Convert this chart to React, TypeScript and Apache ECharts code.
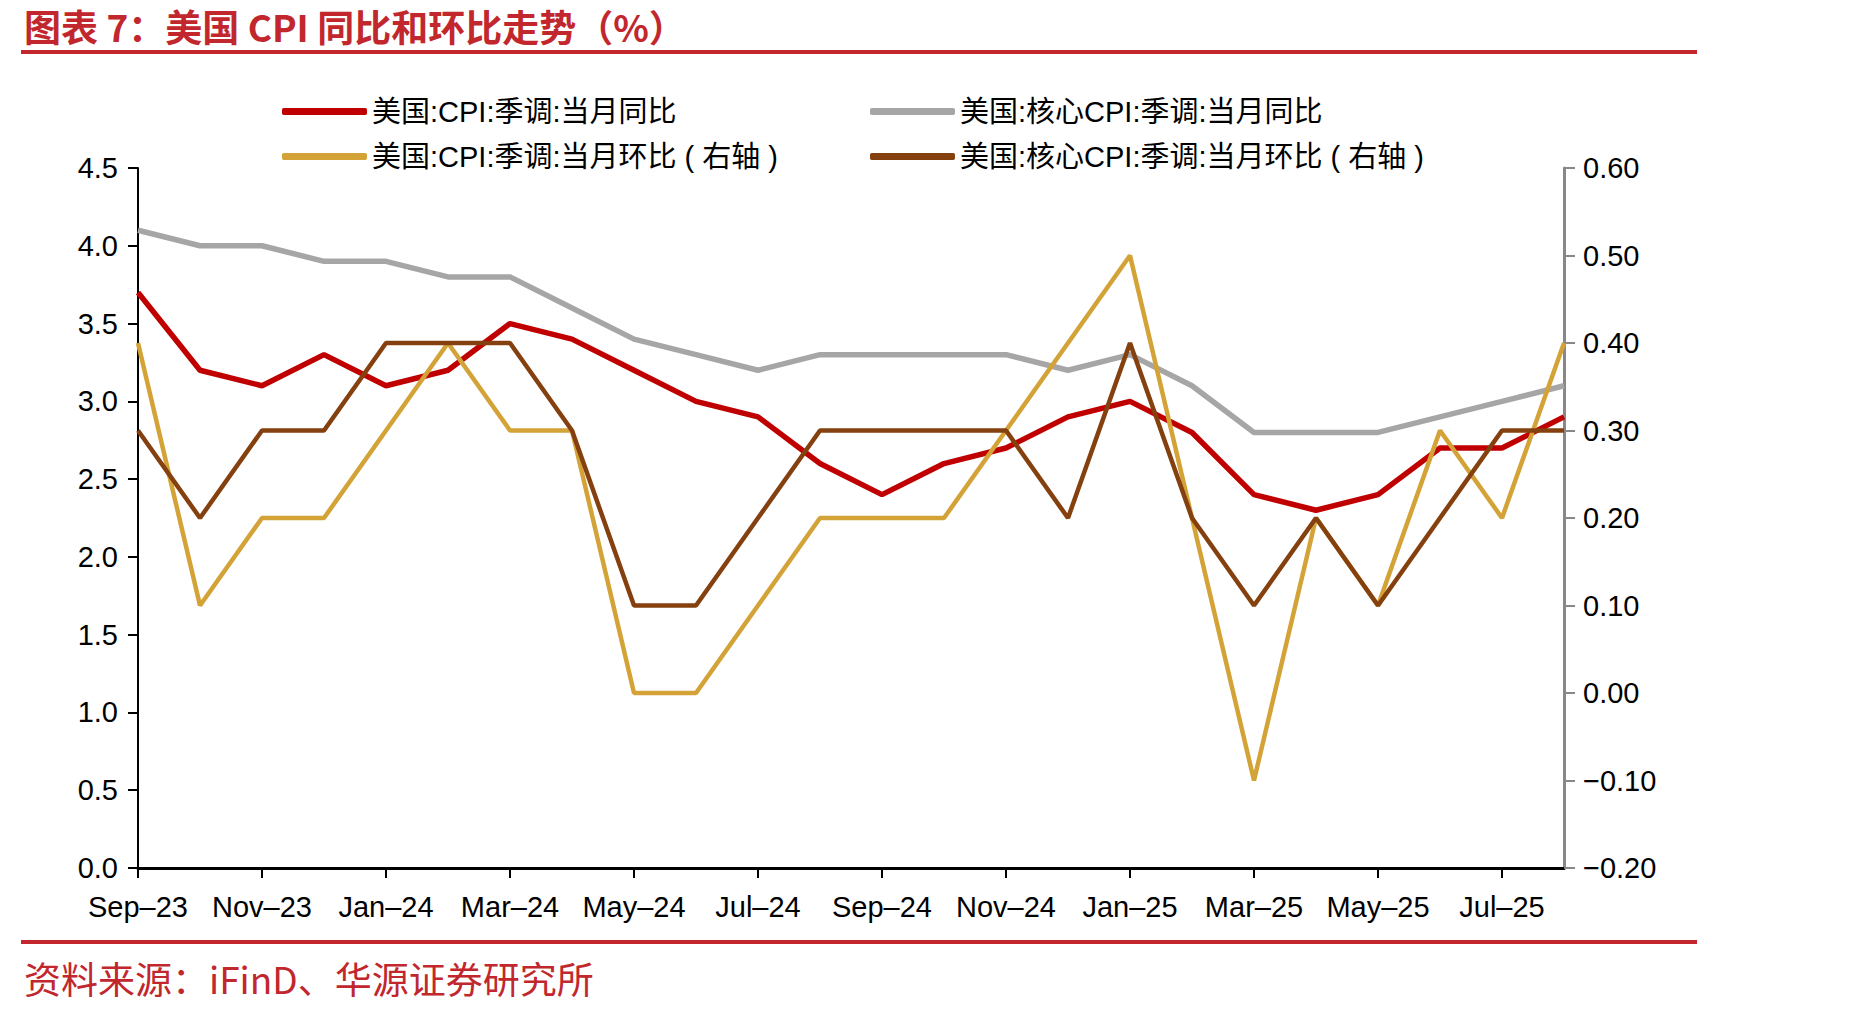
import React, { useEffect, useRef } from "react";
import * as echarts from "echarts";

// Monthly categories, Sep-2023 to Aug-2025
const months = [
  "Sep–23", "Oct–23", "Nov–23", "Dec–23", "Jan–24", "Feb–24", "Mar–24", "Apr–24",
  "May–24", "Jun–24", "Jul–24", "Aug–24", "Sep–24", "Oct–24", "Nov–24", "Dec–24",
  "Jan–25", "Feb–25", "Mar–25", "Apr–25", "May–25", "Jun–25", "Jul–25", "Aug–25",
];

// Year-over-year (left axis, %)
const cpiYoY = [3.7, 3.2, 3.1, 3.3, 3.1, 3.2, 3.5, 3.4, 3.2, 3.0, 2.9, 2.6, 2.4, 2.6, 2.7, 2.9, 3.0, 2.8, 2.4, 2.3, 2.4, 2.7, 2.7, 2.9];
const coreYoY = [4.1, 4.0, 4.0, 3.9, 3.9, 3.8, 3.8, 3.6, 3.4, 3.3, 3.2, 3.3, 3.3, 3.3, 3.3, 3.2, 3.3, 3.1, 2.8, 2.8, 2.8, 2.9, 3.0, 3.1];

// Month-over-month (right axis, %)
const cpiMoM = [0.4, 0.1, 0.2, 0.2, 0.3, 0.4, 0.3, 0.3, 0.0, 0.0, 0.1, 0.2, 0.2, 0.2, 0.3, 0.4, 0.5, 0.2, -0.1, 0.2, 0.1, 0.3, 0.2, 0.4];
const coreMoM = [0.3, 0.2, 0.3, 0.3, 0.4, 0.4, 0.4, 0.3, 0.1, 0.1, 0.2, 0.3, 0.3, 0.3, 0.3, 0.2, 0.4, 0.2, 0.1, 0.2, 0.1, 0.2, 0.3, 0.3];

const seriesNames = [
  "美国:CPI:季调:当月同比",
  "美国:核心CPI:季调:当月同比",
  "美国:CPI:季调:当月环比 ( 右轴 )",
  "美国:核心CPI:季调:当月环比 ( 右轴 )",
];

const TITLE = "图表 7：美国 CPI 同比和环比走势（%）";
const SOURCE = "资料来源：iFinD、华源证券研究所";

const RED = "#c00000";
const GRAY = "#a6a6a6";
const GOLD = "#d4a338";
const BROWN = "#84400e";
const BRAND = "#c1272d";

const LATIN = "'Liberation Sans', Arial, 'Noto Sans CJK SC', sans-serif";

export default function App() {
  const ref = useRef<HTMLDivElement>(null);

  useEffect(() => {
    if (!ref.current) return;
    const chart = echarts.init(ref.current, null, { renderer: "svg" });

    const legendText = { fontSize: 29, color: "#000", fontFamily: LATIN };
    const legendBase = {
      icon: "roundRect",
      itemWidth: 85,
      itemHeight: 7,
      itemGap: 0,
      textStyle: legendText,
      selectedMode: false,
    };

    chart.setOption({
      animation: false,
      backgroundColor: "#fff",
      grid: { left: 138, right: 288, top: 168, bottom: 146, containLabel: false },
      legend: [
        { ...legendBase, data: [seriesNames[0]], left: 277, top: 92 },
        { ...legendBase, data: [seriesNames[1]], left: 865, top: 92 },
        { ...legendBase, data: [seriesNames[2]], left: 277, top: 137 },
        { ...legendBase, data: [seriesNames[3]], left: 865, top: 137 },
      ],
      xAxis: {
        type: "category",
        data: months,
        boundaryGap: false,
        axisLine: { lineStyle: { color: "#000", width: 3 } },
        axisTick: { interval: 1, length: 10, lineStyle: { color: "#000", width: 2 } },
        axisLabel: {
          interval: 1,
          margin: 24,
          fontSize: 29,
          color: "#000",
          fontFamily: LATIN,
        },
        splitLine: { show: false },
      },
      yAxis: [
        {
          type: "value",
          min: 0,
          max: 4.5,
          interval: 0.5,
          axisLine: { show: true, lineStyle: { color: "#000", width: 2 } },
          axisTick: { show: true, length: 10, lineStyle: { color: "#000", width: 2 } },
          axisLabel: {
            margin: 20,
            fontSize: 29,
            color: "#000",
            fontFamily: LATIN,
            formatter: (v: number) => v.toFixed(1),
          },
          splitLine: { show: false },
        },
        {
          type: "value",
          position: "right",
          min: -0.2,
          max: 0.6,
          interval: 0.1,
          axisLine: { show: true, lineStyle: { color: "#888", width: 3 } },
          axisTick: { show: true, length: 11, lineStyle: { color: "#888", width: 2 } },
          axisLabel: {
            margin: 19,
            fontSize: 29,
            color: "#000",
            fontFamily: LATIN,
            formatter: (v: number) => {
              if (Math.abs(v) < 1e-9) return "0.00";
              return v < 0 ? "−" + Math.abs(v).toFixed(2) : v.toFixed(2);
            },
          },
          splitLine: { show: false },
        },
      ],
      series: [
        {
          name: seriesNames[0], type: "line", data: cpiYoY, yAxisIndex: 0,
          showSymbol: false, symbol: "none", z: 3,
          lineStyle: { color: RED, width: 5.5 }, itemStyle: { color: RED },
        },
        {
          name: seriesNames[1], type: "line", data: coreYoY, yAxisIndex: 0,
          showSymbol: false, symbol: "none", z: 2,
          lineStyle: { color: GRAY, width: 5.5 }, itemStyle: { color: GRAY },
        },
        {
          name: seriesNames[2], type: "line", data: cpiMoM, yAxisIndex: 1,
          showSymbol: false, symbol: "none", z: 4,
          lineStyle: { color: GOLD, width: 4.5 }, itemStyle: { color: GOLD },
        },
        {
          name: seriesNames[3], type: "line", data: coreMoM, yAxisIndex: 1,
          showSymbol: false, symbol: "none", z: 5,
          lineStyle: { color: BROWN, width: 4.5 }, itemStyle: { color: BROWN },
        },
      ],
      graphic: [
        {
          type: "text",
          left: 24,
          top: 4,
          style: {
            text: TITLE,
            fill: BRAND,
            fontSize: 37,
            lineHeight: 44,
            fontWeight: "bold",
            fontFamily: "'Noto Sans CJK SC', sans-serif",
          },
        },
        {
          type: "line",
          shape: { x1: 21, y1: 52, x2: 1697, y2: 52 },
          style: { stroke: BRAND, lineWidth: 4 },
        },
        {
          type: "line",
          shape: { x1: 21, y1: 942, x2: 1697, y2: 942 },
          style: { stroke: BRAND, lineWidth: 4 },
        },
        {
          type: "text",
          left: 24,
          top: 959,
          style: {
            text: SOURCE,
            fill: BRAND,
            fontSize: 37,
            fontFamily: "'Noto Sans CJK SC', sans-serif",
          },
        },
      ],
    });

    return () => chart.dispose();
  }, []);

  return (
    <div
      ref={ref}
      style={{ position: "fixed", left: 0, top: 0, width: 1852, height: 1014, background: "#fff" }}
    />
  );
}
